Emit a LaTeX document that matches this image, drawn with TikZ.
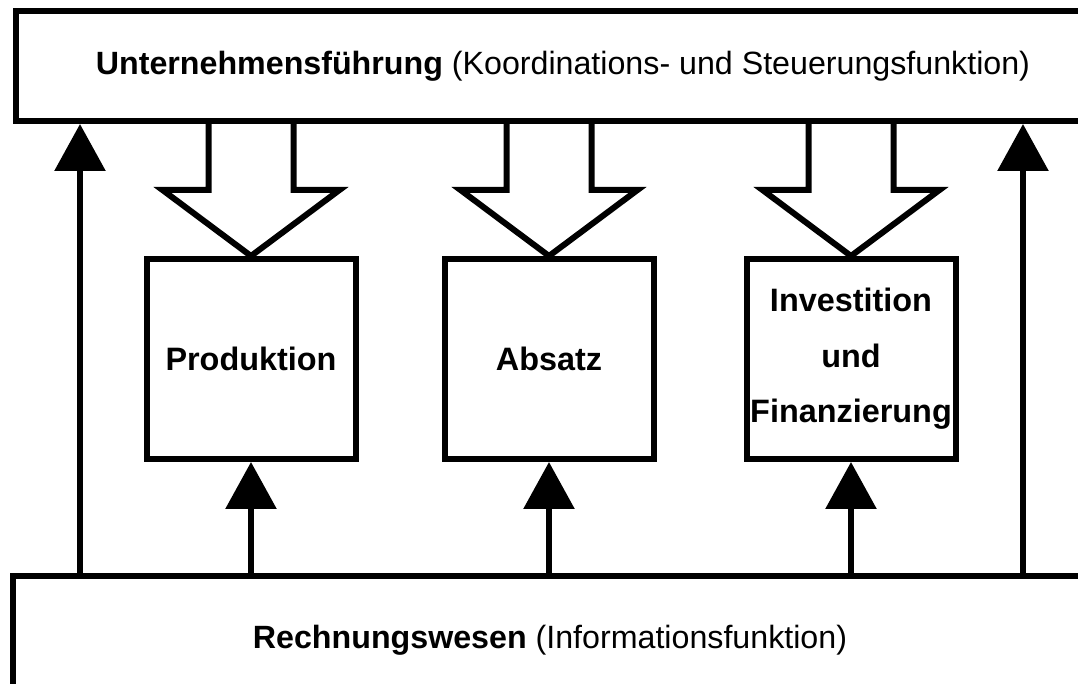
\documentclass[tikz,border=0pt]{standalone}
\usepackage{fontspec}
\setmainfont{Liberation Sans}
\usetikzlibrary{arrows.meta,backgrounds}

\tikzset{
  bigbox/.style={draw, line width=3pt, fill=white, font=\fontsize{16.1}{19}\selectfont},
  box/.style={draw, line width=3pt, fill=white, align=center, inner xsep=0pt, minimum width=104.5pt, minimum height=100pt, font=\fontsize{16.2}{27.75}\selectfont\bfseries},
  up/.style={line width=3pt, -{Triangle[length=23.5pt,width=25pt]}},
  hollow/.style={line width=3pt, fill=white, line join=miter},
}

% hollow arrow from the top box down onto a box
\newcommand{\hollowarrow}[1]{%
  \draw[hollow] ([xshift=-21.25pt]#1.north |- unt.south) -- ([xshift=-21.25pt,yshift=33pt]#1.north)
    -- ([xshift=-44.25pt,yshift=33pt]#1.north) -- (#1.north)
    -- ([xshift=44.25pt,yshift=33pt]#1.north) -- ([xshift=21.25pt,yshift=33pt]#1.north)
    -- ([xshift=21.25pt]#1.north |- unt.south);}

\begin{document}
\begin{tikzpicture}[x=0.5pt,y=-0.5pt]
\useasboundingbox (0,0) rectangle (1078,684);

\node[bigbox, minimum width=547pt, minimum height=55pt] (unt) at (563,66)
  {\textbf{Unternehmensführung} (Koordinations- und Steuerungsfunktion)};
\node[bigbox, minimum width=537pt, minimum height=64pt] (rw) at (550,640)
  {\textbf{Rechnungswesen} (Informationsfunktion)};

\node[box] (prod) at (251,359) {Produktion};
\node[box] (abs) at (549,359) {Absatz};
\node[box] (inv) at (851,359) {Investition\\und\\Finanzierung};

\coordinate (l) at (80,0);
\coordinate (r) at (1023,0);

\begin{scope}[on background layer]
\hollowarrow{prod}
\hollowarrow{abs}
\hollowarrow{inv}
\end{scope}

\draw[up] (l |- rw.north) -- (l |- unt.south);
\draw[up] (r |- rw.north) -- (r |- unt.south);
\draw[up] (prod.south |- rw.north) -- (prod.south);
\draw[up] (abs.south |- rw.north) -- (abs.south);
\draw[up] (inv.south |- rw.north) -- (inv.south);

\end{tikzpicture}
\end{document}
